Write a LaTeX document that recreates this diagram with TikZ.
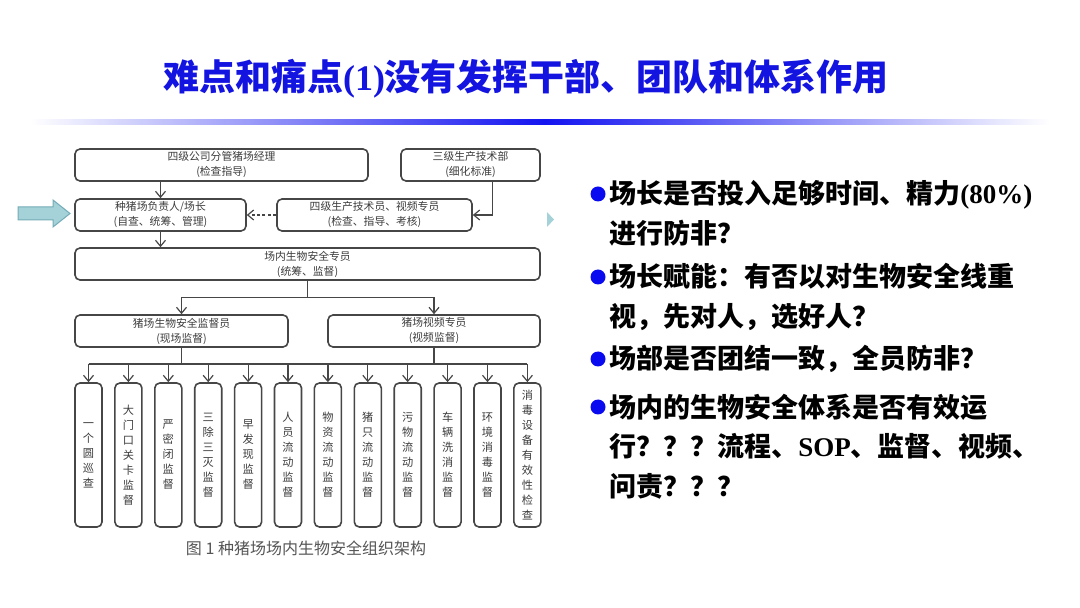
\documentclass[tikz,border=0pt]{standalone}
\usepackage{fontspec}
\setmainfont{Liberation Serif}
\newfontfamily\cjk{Noto Sans CJK SC}
\usetikzlibrary{arrows.meta,calc}
\definecolor{titazul}{RGB}{20,20,225}
\definecolor{azulvineta}{RGB}{10,10,240}
\definecolor{azullinea}{RGB}{20,20,240}
\definecolor{linea}{RGB}{70,70,70}
\definecolor{texto}{RGB}{60,60,60}
\definecolor{pie}{RGB}{85,85,85}
\definecolor{tealclaro}{RGB}{165,210,216}
\definecolor{tealborde}{RGB}{115,172,182}
\tikzset{
  caja/.style={rectangle,rounded corners=2.5pt,draw=linea,line width=0.8pt,fill=white,
    align=center,inner sep=0pt,minimum height=16pt,text=texto,
    font=\cjk\fontsize{5.4}{7.5}\selectfont},
  columna/.style={caja,minimum width=13.5pt,minimum height=72pt,
    font=\cjk\fontsize{5.6}{7.5}\selectfont},
  flecha/.style={-{Straight Barb[length=3pt,width=5pt]},linea,line width=0.6pt},
  punteada/.style={flecha,dash pattern=on 1.5pt off 1.2pt},
  parrafo/.style={anchor=base west,align=left,inner sep=0pt,
    font=\cjk\bfseries\fontsize{13.5}{19.75}\selectfont},
  bola/.style={circle,fill=azulvineta,minimum size=7.5pt,inner sep=0pt},
}
\begin{document}
\begin{tikzpicture}[x=0.5pt,y=-0.5pt]
  \useasboundingbox (0,0) rectangle (1080,608);
  % titulo
  \node[anchor=base,inner sep=0pt,text=titazul,font=\cjk\bfseries\fontsize{18}{22}\selectfont]
    (titulo) at (526,91) {难点和痛点{\rmfamily (1)}没有发挥干部、团队和体系作用};
  \shade[left color=white,right color=azullinea] (30,120) rectangle (545,125);
  \shade[left color=azullinea,right color=white] (545,120) rectangle (1050,125);
  % organigrama
  \node[caja,minimum width=146.5pt] (gerente) at (221.5,165) {四级公司分管猪场经理\\(检查指导)};
  \node[caja,minimum width=69.5pt] (tecnica) at (470.5,165) {三级生产技术部\\(细化标准)};
  \node[caja,minimum width=85.5pt] (jefe) at (160.5,215) {种猪场负责人/场长\\(自查、统筹、管理)};
  \node[caja,minimum width=97.5pt] (tecnico) at (374.5,215) {四级生产技术员、视频专员\\(检查、指导、考核)};
  \node[caja,minimum width=232.5pt] (bio) at (307.5,264) {场内生物安全专员\\(统筹、监督)};
  \node[caja,minimum width=106.5pt] (supervisor) at (181.5,331) {猪场生物安全监督员\\(现场监督)};
  \node[caja,minimum width=106pt] (video) at (434,331) {猪场视频专员\\(视频监督)};
  \foreach \txt [count=\i] in {一\\个\\圆\\巡\\查,大\\门\\口\\关\\卡\\监\\督,严\\密\\闭\\监\\督,
      三\\除\\三\\灭\\监\\督,早\\发\\现\\监\\督,人\\员\\流\\动\\监\\督,物\\资\\流\\动\\监\\督,
      猪\\只\\流\\动\\监\\督,污\\物\\流\\动\\监\\督,车\\辆\\洗\\消\\监\\督,环\\境\\消\\毒\\监\\督,
      消\\毒\\设\\备\\有\\效\\性\\检\\查}
    \node[columna] (c\i) at ({88.5+39.9*(\i-1)},455) {\txt};
  \node[text=pie,font=\cjk\fontsize{8}{9}\selectfont,inner sep=0pt] (pie) at (306,548)
    {图 1 种猪场场内生物安全组织架构};
  % conexiones
  \draw[flecha] (jefe.north |- gerente.south) -- (jefe.north);
  \draw[flecha] ($(tecnica.south)+(22,0)$) |- (tecnico.east);
  \draw[punteada] (tecnico.west) -- (jefe.east);
  \draw[flecha] (jefe.south) -- (jefe.south |- bio.north);
  \draw[linea,line width=0.6pt] (bio.south) -- ++(0,17) coordinate (rama);
  \draw[flecha] (rama) -| (supervisor.north);
  \draw[flecha] (rama) -| (video.north);
  \coordinate (bus) at (0,364);
  \draw[linea,line width=0.6pt] (supervisor.south) -- (supervisor.south |- bus);
  \draw[linea,line width=0.6pt] (video.south) -- (video.south |- bus);
  \draw[linea,line width=0.6pt] (c1.north |- bus) -- (c12.north |- bus);
  \foreach \i in {1,...,12}
    \draw[flecha] (c\i.north |- bus) -- (c\i.north);
  % flechas decorativas
  \fill[tealclaro,draw=tealborde,line width=0.5pt] (18,207) -- (53,207) -- (53,200) -- (70,213.5)
    -- (53,227) -- (53,220) -- (18,220) -- cycle;
  \fill[tealclaro] (547,212) -- (554,219.5) -- (547,227) -- cycle;
  % texto derecho (base = ultima linea)
  \node[bola] (b1) at (598,194) {};
  \node[parrafo] (p1) at (609,243.5) {场长是否投入足够时间、精力{\rmfamily (80\%)}\\进行防非？};
  \node[bola] (b2) at (598,277) {};
  \node[parrafo] (p2) at (609,326.5) {场长赋能：有否以对生物安全线重\\视，先对人，选好人？};
  \node[bola] (b3) at (598,359) {};
  \node[parrafo] (p3) at (609,369) {场部是否团结一致，全员防非？};
  \node[bola] (b4) at (598,407) {};
  \node[parrafo] (p4) at (609,496) {场内的生物安全体系是否有效运\\行？？？流程、{\rmfamily SOP}、监督、视频、\\问责？？？};
\end{tikzpicture}
\end{document}
